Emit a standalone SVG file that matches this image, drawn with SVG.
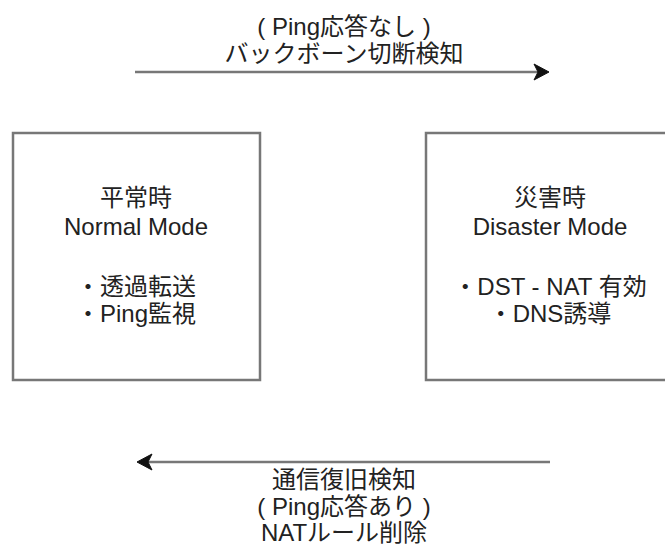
<svg xmlns="http://www.w3.org/2000/svg" width="665" height="551" viewBox="0 0 665 551">
<defs>
<style>
.box{fill:#ffffff;stroke:#777777;stroke-width:2.5}
.t{font-family:"Liberation Sans","Noto Sans CJK JP",sans-serif;font-size:24px;fill:#222222;text-anchor:middle}
.edge{stroke:#777777;stroke-width:2.5;fill:none}
.head{fill:#111111;stroke:#111111;stroke-width:1}
</style>
</defs>
<rect width="665" height="551" fill="#ffffff"/>
<g id="normal">
<rect class="box" x="13" y="133" width="247" height="247"/>
<text class="t" x="136" y="206">平常時</text>
<text class="t" x="136" y="235">Normal Mode</text>
<text class="t" x="136" y="295">・透過転送</text>
<text class="t" x="136" y="322">・Ping監視</text>
</g>
<g id="disaster">
<rect class="box" x="426" y="133" width="248" height="247"/>
<text class="t" x="550" y="206">災害時</text>
<text class="t" x="550" y="235">Disaster Mode</text>
<text class="t" x="550" y="295">・DST - NAT 有効</text>
<text class="t" x="550" y="322">・DNS誘導</text>
</g>
<g id="connectors">
<g id="to-disaster">
<line class="edge" x1="135" y1="72" x2="540" y2="72"/>
<path class="head" d="M549,72 L534,64 L538,72 L534,80 Z"/>
<text class="t" x="344" y="35">( Ping応答なし )</text>
<text class="t" x="344" y="62">バックボーン切断検知</text>
</g>
<g id="to-normal">
<line class="edge" x1="550" y1="462" x2="146" y2="462"/>
<path class="head" d="M137,462 L152,454 L148,462 L152,470 Z"/>
<text class="t" x="344" y="488">通信復旧検知</text>
<text class="t" x="344" y="515">( Ping応答あり )</text>
<text class="t" x="344" y="541">NATルール削除</text>
</g>
</g>
</svg>
